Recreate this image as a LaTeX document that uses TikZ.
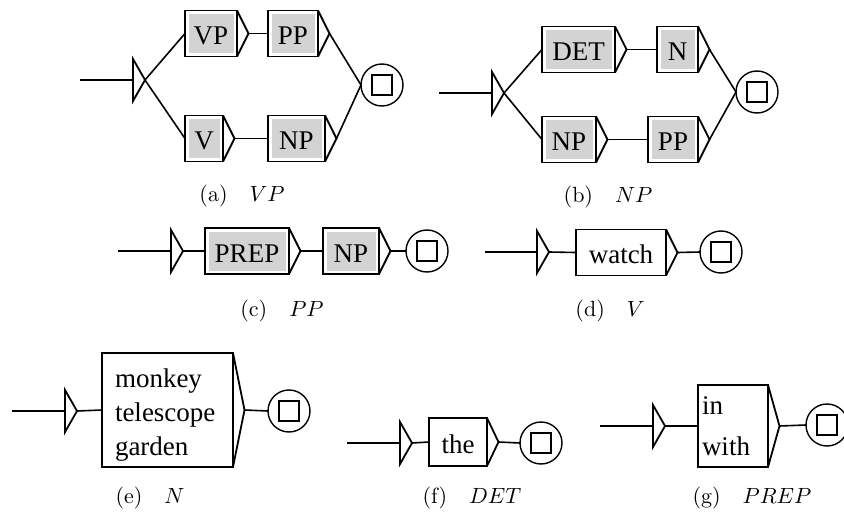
\documentclass[tikz,border=0pt]{standalone}
\usepackage{fontspec}
\newfontfamily\boxfont{Liberation Serif}
\definecolor{boxgray}{RGB}{211,211,211}

% input arrow of a graph: #1 is the coordinate at the middle of its left side
\newcommand{\initarrow}[1]{\draw[tri] ([yshift=21pt]#1) -- ([xshift=12pt]#1) coordinate (#1-tip) -- ([yshift=-21pt]#1) -- cycle;}
% output arrow on the right side of a box
\newcommand{\boxtip}[1]{\draw[tri] (#1.north east) -- ([xshift=11.5pt]#1.east) coordinate (#1-tip) -- (#1.south east);}

\begin{document}
\begin{tikzpicture}[x=1pt,y=-1pt]
    \tikzstyle{box}=[rectangle,draw,line width=1.8pt,outer sep=0pt,inner sep=0pt,minimum height=46pt,font=\boxfont\fontsize{27}{34}\selectfont]
    \tikzstyle{word}=[box,text height=22pt,text depth=0pt]   % one line of text
    \tikzstyle{sub}=[word,path picture={\fill[boxgray] ([shift={(3.5pt,-3.5pt)}]path picture bounding box.north west) rectangle ([shift={(-3.5pt,3.5pt)}]path picture bounding box.south east);}]   % call of a subgraph
    \tikzstyle{final}=[circle,draw,line width=1.4pt,outer sep=0pt,inner sep=0pt,minimum size=42pt,
        path picture={\draw[line width=2.4pt] ([shift={(-10pt,-10pt)}]path picture bounding box.center) rectangle ([shift={(10pt,10pt)}]path picture bounding box.center);}]
    \tikzstyle{tri}=[line width=1.8pt,line join=miter]
    \tikzstyle{subcap}=[anchor=base]
    \tikzstyle{every edge}=[draw,line width=1.6pt]

    \useasboundingbox (0,0) rectangle (844,516);

    % (a) VP
    \coordinate (a-start) at (80,80);
    \coordinate (a-init) at (133,80);
    \node[sub,minimum width=52pt] (vp) at (211,33.5) {VP};
    \node[sub,minimum width=50pt] (pp) at (293,33.5) {PP};
    \node[sub,minimum width=38pt] (v) at (204,138.5) {V};
    \node[sub,minimum width=57pt] (np) at (296.5,138.5) {NP};
    \node[final] (a-end) at (382,85) {};
    \initarrow{a-init}
    \boxtip{vp} \boxtip{pp} \boxtip{v} \boxtip{np}
    \path (a-start) edge (a-init);
    \path (a-init-tip) edge (vp.west);
    \path (a-init-tip) edge (v.west);
    \path (vp-tip) edge (pp.west);
    \path (v-tip) edge (np.west);
    \path (pp-tip) edge (a-end.west);
    \path (np-tip) edge (a-end.west);
    \node[subcap] (a-cap) at (242,202) {\scalebox{2.2}{(a)\quad$VP$}};

    % (b) NP
    \coordinate (b-start) at (439,93);
    \coordinate (b-init) at (492,93);
    \node[sub,minimum width=73pt] (det) at (578.5,49.5) {DET};
    \node[sub,minimum width=41pt] (n) at (677.5,49.5) {N};
    \node[sub,minimum width=54pt] (npb) at (569,139.5) {NP};
    \node[sub,minimum width=50pt] (ppb) at (673,139.5) {PP};
    \node[final] (b-end) at (757,92) {};
    \initarrow{b-init}
    \boxtip{det} \boxtip{n} \boxtip{npb} \boxtip{ppb}
    \path (b-start) edge (b-init);
    \path (b-init-tip) edge (det.west);
    \path (b-init-tip) edge (npb.west);
    \path (det-tip) edge (n.west);
    \path (npb-tip) edge (ppb.west);
    \path (n-tip) edge (b-end.west);
    \path (ppb-tip) edge (b-end.west);
    \node[subcap] (b-cap) at (608,203) {\scalebox{2.2}{(b)\quad$NP$}};

    % (c) PP
    \coordinate (c-start) at (118,251);
    \coordinate (c-init) at (171,251);
    \node[sub,minimum width=84pt] (prep) at (247,251) {PREP};
    \node[sub,minimum width=56pt] (npc) at (351,251) {NP};
    \node[final] (c-end) at (427,251) {};
    \initarrow{c-init}
    \boxtip{prep} \boxtip{npc}
    \path (c-start) edge (c-init);
    \path (c-init-tip) edge (prep.west);
    \path (prep-tip) edge (npc.west);
    \path (npc-tip) edge (c-end.west);
    \node[subcap] (c-cap) at (282,316) {\scalebox{2.2}{(c)\quad$PP$}};

    % (d) V
    \coordinate (d-start) at (485,252);
    \coordinate (d-init) at (537,252);
    \node[word,minimum width=90pt] (watch) at (621,252.5) {watch};
    \node[final] (d-end) at (721,252) {};
    \initarrow{d-init}
    \boxtip{watch}
    \path (d-start) edge (d-init);
    \path (d-init-tip) edge (watch.west);
    \path (watch-tip) edge (d-end.west);
    \node[subcap] (d-cap) at (610,316) {\scalebox{2.2}{(d)\quad$V$}};

    % (e) N
    \coordinate (e-start) at (12,411);
    \coordinate (e-init) at (65,411);
    \node[box,inner xsep=13pt,text width=105pt,align=left,minimum height=114pt] (nouns) at (167.5,410) {\rule{0pt}{28pt}monkey\\telescope\\garden};
    \node[final] (e-end) at (289,411) {};
    \initarrow{e-init}
    \boxtip{nouns}
    \path (e-start) edge (e-init);
    \path (e-init-tip) edge (nouns.west);
    \path (nouns-tip) edge (e-end.west);
    \node[subcap] (e-cap) at (150,503) {\scalebox{2.2}{(e)\quad$N$}};

    % (f) DET
    \coordinate (f-start) at (347,443);
    \coordinate (f-init) at (400,443);
    \node[word,minimum width=58pt,minimum height=48pt] (the) at (458,442) {the};
    \node[final] (f-end) at (541,443) {};
    \initarrow{f-init}
    \boxtip{the}
    \path (f-start) edge (f-init);
    \path (f-init-tip) edge (the.west);
    \path (the-tip) edge (f-end.west);
    \node[subcap] (f-cap) at (472,503) {\scalebox{2.2}{(f)\quad$DET$}};

    % (g) PREP
    \coordinate (g-start) at (600,426);
    \coordinate (g-init) at (653,426);
    \node[box,inner xsep=4pt,text width=62pt,align=left,minimum height=82pt,font=\boxfont\fontsize{27}{41}\selectfont] (preps) at (733,426) {in\\with};
    \node[final] (g-end) at (827,425) {};
    \initarrow{g-init}
    \boxtip{preps}
    \path (g-start) edge (g-init);
    \path (g-init-tip) edge (preps.west);
    \path (preps-tip) edge (g-end.west);
    \node[subcap] (g-cap) at (752,503) {\scalebox{2.2}{(g)\quad$PREP$}};
\end{tikzpicture}
\end{document}
